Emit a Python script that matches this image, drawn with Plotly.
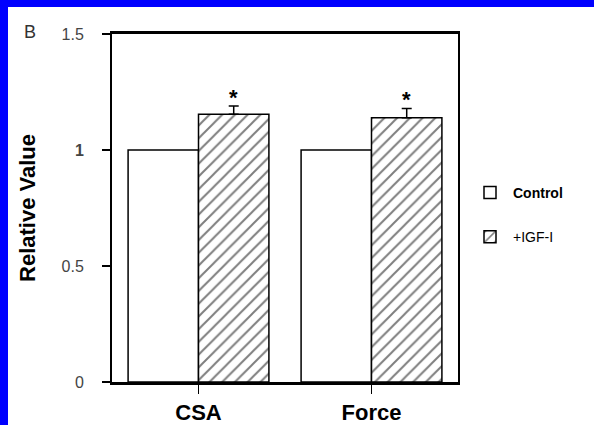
import plotly.graph_objects as go

categories = ["CSA", "Force"]
control_values = [1.0, 1.0]
igf_values = [1.154, 1.139]
igf_errors = [0.036, 0.040]
y_tick_values = [0, 0.5, 1, 1.5]
y_tick_labels = ["0", "0.5", "<b>1</b>", "1.5"]

W, H = 594, 425
L, R, T, B = 112, 136, 34, 43
pw, ph = W - L - R, H - T - B

def px_x(x):
    return (x - L) / pw

def px_y(y):
    return (H - y - B) / ph

fig = go.Figure()
fig.add_trace(go.Bar(
    x=categories, y=control_values, name="<b>Control</b>",
    marker=dict(color="white", line=dict(color="black", width=1.5)),
    legendgroup="a",
))
fig.add_trace(go.Bar(
    x=categories, y=igf_values, name="+IGF-I",
    marker=dict(color="white", line=dict(color="black", width=1.5),
                pattern=dict(shape="/", fgcolor="black", bgcolor="white",
                             size=9, solidity=0.22)),
    error_y=dict(type="data", array=igf_errors, arrayminus=[0, 0],
                 symmetric=False, color="black", thickness=1.5, width=5),
    legendgroup="b",
))

for i, (v, e) in enumerate(zip(igf_values, igf_errors)):
    fig.add_annotation(x=i, y=v + e, xref="x", yref="y", text="<b>*</b>",
                       showarrow=False, xshift=35, yanchor="bottom", yshift=-6,
                       font=dict(size=22, color="black"))

fig.add_annotation(x=px_x(30), y=px_y(32), xref="paper", yref="paper",
                   text="B", showarrow=False, xanchor="center", yanchor="middle",
                   font=dict(size=18, color="#333"))

# blue frame strips (top and left)
fig.add_shape(type="rect", xref="paper", yref="paper",
              x0=px_x(0), x1=px_x(8), y0=px_y(H), y1=px_y(0),
              fillcolor="#0000ff", line=dict(width=0), layer="above")
fig.add_shape(type="rect", xref="paper", yref="paper",
              x0=px_x(0), x1=px_x(W), y0=px_y(7), y1=px_y(0),
              fillcolor="#0000ff", line=dict(width=0), layer="above")

fig.update_layout(
    width=W, height=H,
    margin=dict(l=L, r=R, t=T, b=B, autoexpand=False),
    paper_bgcolor="white", plot_bgcolor="white",
    barmode="group", bargap=0.186, bargroupgap=0,
    font=dict(family="Liberation Sans, Arial, sans-serif", color="black"),
    showlegend=True,
    legend=dict(x=px_x(467), y=px_y(177), xanchor="left", yanchor="top",
                font=dict(size=14, color="black"), tracegroupgap=23,
                traceorder="grouped", bgcolor="rgba(0,0,0,0)", itemwidth=36),
)
fig.update_xaxes(
    range=[-0.5, 1.5], showline=True, linecolor="black", linewidth=3,
    mirror=True, ticks="outside", ticklen=9, tickcolor="black", tickwidth=1,
    tickfont=dict(size=22, color="black", family="Liberation Sans, Arial"),
    tickvals=[0, 1], ticktext=["<b>CSA</b>", "<b>Force</b>"],
    showgrid=False, zeroline=False, automargin=False,
)
fig.update_yaxes(
    range=[0, 1.5], showline=True, linecolor="black", linewidth=2,
    mirror=True, ticks="outside", ticklen=8, tickcolor="black", tickwidth=2,
    tickvals=y_tick_values, ticktext=y_tick_labels,
    tickfont=dict(size=16, color="#444"), ticklabelstandoff=15,
    showgrid=False, zeroline=False, automargin=False,
    title=dict(text="<b>Relative Value</b>", font=dict(size=22, color="black"),
               standoff=20),
)

fig.write_html("out.html", config={"displayModeBar": False},
               post_script="document.body.style.margin='0';")
